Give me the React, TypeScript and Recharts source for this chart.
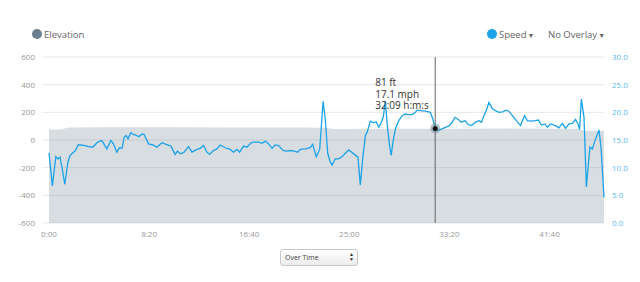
import React from "react";
import {
  ComposedChart,
  Area,
  Line,
  XAxis,
  YAxis,
  CartesianGrid,
  ReferenceLine,
  ReferenceDot,
} from "recharts";

// speed samples: seconds since start / mph
const SPEED_T = [
  0, 17, 34, 44, 55, 65, 79, 94, 105, 122, 132, 145, 160, 180, 197, 219, 239, 255, 264, 289,
  309, 322, 339, 352, 365, 375, 385, 395, 409, 422, 439, 449, 464, 475, 497, 519, 539, 564, 585, 609,
  630, 642, 655, 672, 697, 714, 739, 755, 772, 789, 802, 822, 839, 855, 880, 905, 922, 939, 952, 972,
  989, 1009, 1022, 1047, 1064, 1080, 1097, 1114, 1130, 1147, 1169, 1185, 1205, 1225, 1242, 1255, 1280, 1305, 1317, 1335,
  1352, 1369, 1380, 1392, 1405, 1414, 1430, 1447, 1464, 1480, 1497, 1543, 1555, 1567, 1580, 1589, 1605, 1622, 1634, 1647,
  1660, 1670, 1680, 1689, 1700, 1709, 1719, 1730, 1747, 1764, 1780, 1797, 1814, 1830, 1839, 1855, 1880, 1905, 1917, 1929,
  1943, 1963, 1988, 1997, 2014, 2027, 2044, 2060, 2077, 2094, 2110, 2130, 2147, 2160, 2172, 2184, 2197, 2214, 2230, 2247,
  2267, 2280, 2297, 2314, 2334, 2355, 2375, 2389, 2410, 2430, 2444, 2460, 2477, 2489, 2505, 2530, 2547, 2564, 2580, 2597,
  2614, 2630, 2642, 2650, 2659, 2672, 2684, 2694, 2702, 2714, 2730, 2747, 2757, 2772,
];
const SPEED_MPH = [
  12.7, 6.7, 12.0, 11.6, 11.9, 10.0, 7.0, 10.9, 12.2, 12.8, 13.1, 14.1, 14.1, 14.0, 13.8, 13.7, 14.5, 14.8, 14.9, 13.4,
  14.9, 14.3, 12.8, 13.6, 13.5, 15.5, 15.8, 15.2, 16.3, 16.0, 15.8, 15.6, 16.1, 16.0, 14.3, 14.1, 13.7, 14.5, 14.2, 13.9,
  12.4, 13.0, 12.5, 12.7, 13.8, 12.8, 13.3, 13.5, 14.0, 12.8, 12.4, 13.1, 13.4, 14.1, 13.6, 13.3, 12.8, 13.3, 12.8, 13.9,
  13.7, 14.5, 14.6, 14.6, 14.4, 14.8, 14.3, 13.5, 14.1, 14.0, 13.1, 13.0, 13.1, 13.0, 12.8, 13.3, 13.4, 13.6, 14.2, 12.0,
  13.3, 22.0, 18.7, 12.6, 11.0, 10.5, 11.6, 11.6, 12.0, 12.6, 13.2, 11.9, 6.9, 11.6, 15.8, 16.4, 18.4, 18.1, 18.3, 17.3,
  18.2, 19.2, 22.1, 17.9, 14.3, 12.2, 14.9, 17.0, 18.5, 19.4, 19.7, 19.6, 19.6, 20.0, 20.4, 20.3, 20.2, 20.0, 18.8, 17.1,
  16.7, 17.0, 17.4, 17.5, 18.2, 19.1, 18.7, 18.2, 18.5, 17.8, 17.6, 18.2, 18.5, 18.2, 19.4, 20.3, 21.8, 20.7, 20.3, 20.0,
  20.1, 20.4, 20.2, 19.4, 18.5, 17.6, 19.4, 18.5, 18.4, 18.5, 18.6, 17.7, 17.9, 17.3, 17.9, 17.6, 17.2, 18.0, 17.1, 17.9,
  18.0, 18.7, 17.9, 16.9, 22.4, 19.1, 6.5, 10.7, 13.7, 13.4, 15.2, 16.8, 13.7, 4.6,
];

// elevation samples: seconds / feet
const ELEV_T = [0, 40, 70, 95, 300, 600, 900, 1200, 1380, 1420, 1700, 2000, 2300, 2600, 2650, 2670, 2772];
const ELEV_FT = [76, 75, 80, 90, 92, 93, 91, 90, 88, 80, 82, 82, 83, 82, 80, 66, 65];

const ELEV_TICKS = [-600, -400, -200, 0, 200, 400, 600];
const SPEED_TICKS = [0, 5, 10, 15, 20, 25, 30];
const TIME_TICKS = [0, 500, 1000, 1500, 2000, 2500];
const DURATION = 2772;

// hovered point
const CURSOR_T = 1929;
const CURSOR_MPH = 17.1;
const CURSOR_LINES = ["81 ft", "17.1 mph", "32:09 h:m:s"];

const speedData = SPEED_T.map((t, i) => ({ t, mph: SPEED_MPH[i] }));
const elevData = ELEV_T.map((t, i) => ({ t, elev: ELEV_FT[i] }));

const FONT = "'Open Sans', sans-serif";
const BLUE = "#1ba3ea";

function fmtTime(v: number) {
  const m = Math.floor(v / 60);
  const s = Math.round(v % 60);
  return `${m}:${String(s).padStart(2, "0")}`;
}

function CursorLabel(props: any) {
  const x = props.viewBox.x - 60;
  return (
    <text x={x} y={86} fontSize={10} fill="#333" fontFamily={FONT}>
      {CURSOR_LINES.map((line, i) => (
        <tspan key={line} x={x} dy={i === 0 ? 0 : 11.5}>
          {line}
        </tspan>
      ))}
    </text>
  );
}

const legendText: React.CSSProperties = {
  position: "absolute",
  top: 28,
  fontSize: 9.5,
  color: "#666",
  fontFamily: FONT,
  whiteSpace: "nowrap",
};

function Dot({ x, color }: { x: number; color: string }) {
  return (
    <div
      style={{
        position: "absolute",
        left: x - 5,
        top: 29,
        width: 10,
        height: 10,
        borderRadius: 5,
        background: color,
      }}
    />
  );
}

export default function App() {
  return (
    <div style={{ position: "absolute", left: 0, top: 0, width: 640, height: 282, background: "#fff" }}>
      <Dot x={37} color="#6b7f8f" />
      <div style={{ ...legendText, left: 44 }}>Elevation</div>
      <Dot x={492} color={BLUE} />
      <div style={{ ...legendText, left: 499 }}>
        Speed<span style={{ fontSize: 7, marginLeft: 1 }}>▼</span>
      </div>
      <div style={{ ...legendText, left: 548 }}>
        No Overlay<span style={{ fontSize: 7, marginLeft: 1 }}>▼</span>
      </div>

      <div style={{ position: "absolute", left: 0, top: 0 }}>
        <ComposedChart width={640} height={245} margin={{ top: 57, right: 0, bottom: 0, left: 0 }}>
          <CartesianGrid vertical={false} yAxisId="elev" stroke="#e6e6e6" />
          <XAxis
            type="number"
            dataKey="t"
            domain={[0, DURATION]}
            ticks={TIME_TICKS}
            tickFormatter={fmtTime}
            padding={{ left: 6, right: 0 }}
            axisLine={false}
            tickLine={false}
            height={22}
            tick={{ fontSize: 8, fill: "#999", fontFamily: FONT }}
          />
          <YAxis
            yAxisId="elev"
            orientation="left"
            domain={[-600, 600]}
            ticks={ELEV_TICKS}
            width={43}
            axisLine={false}
            tickLine={false}
            tick={{ fontSize: 8, fill: "#999", fontFamily: FONT }}
          />
          <YAxis
            yAxisId="speed"
            orientation="right"
            domain={[0, 30]}
            ticks={SPEED_TICKS}
            tickFormatter={(v) => Number(v).toFixed(1)}
            width={36}
            axisLine={false}
            tickLine={false}
            tick={{ fontSize: 8, fill: "#5cb9ec", fontFamily: FONT, textAnchor: "start" }}
          />
          <Area
            data={elevData}
            yAxisId="elev"
            dataKey="elev"
            type="linear"
            baseValue="dataMin"
            stroke="none"
            fill="#8f9fab"
            fillOpacity={0.35}
            isAnimationActive={false}
          />
          <Line
            data={speedData}
            yAxisId="speed"
            dataKey="mph"
            type="linear"
            stroke={BLUE}
            strokeWidth={1.3}
            dot={false}
            isAnimationActive={false}
          />
          <ReferenceLine
            x={CURSOR_T}
            yAxisId="speed"
            stroke="#666"
            strokeWidth={1}
            label={<CursorLabel />}
          />
          <ReferenceDot x={CURSOR_T} y={CURSOR_MPH} yAxisId="speed" r={5} fill="#6e8aa0" fillOpacity={0.5} stroke="none" />
          <ReferenceDot x={CURSOR_T} y={CURSOR_MPH} yAxisId="speed" r={2.5} fill="#111" stroke="none" />
        </ComposedChart>
      </div>

      <div
        style={{
          position: "absolute",
          left: 280,
          top: 249,
          width: 72,
          height: 15,
          border: "1px solid #c8c8c8",
          borderRadius: 3,
          background: "linear-gradient(#ffffff, #ececec)",
          fontFamily: FONT,
          fontSize: 7,
          color: "#444",
          lineHeight: "15px",
          paddingLeft: 4,
          boxSizing: "content-box",
        }}
      >
        Over Time
        <span style={{ position: "absolute", right: 3, top: 2, fontSize: 5, lineHeight: "5px", color: "#333" }}>
          ▲<br />▼
        </span>
      </div>
    </div>
  );
}
